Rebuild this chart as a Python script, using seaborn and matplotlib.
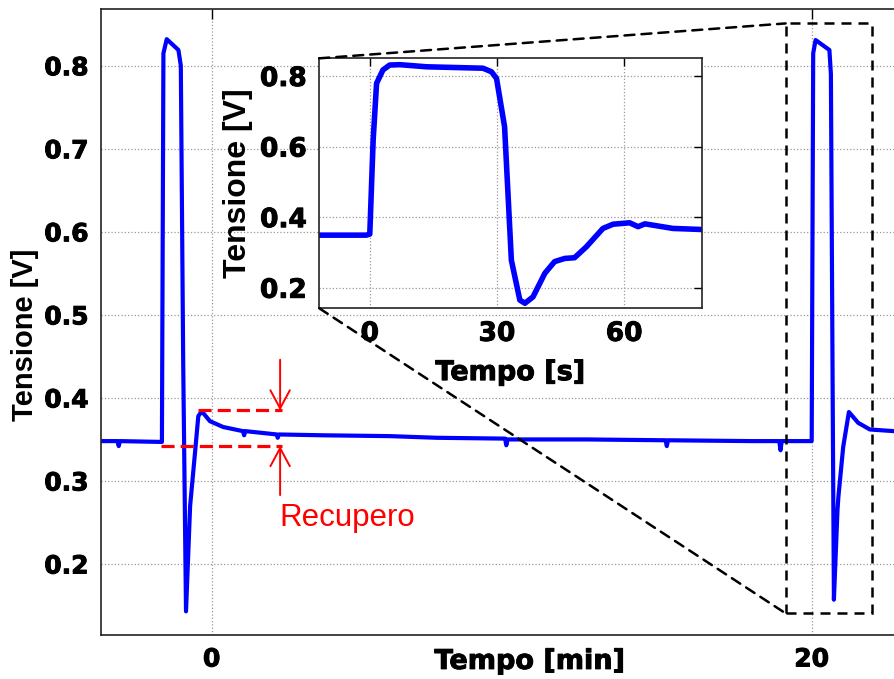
import matplotlib
matplotlib.use("Agg")
import matplotlib.pyplot as plt
import matplotlib.patheffects as pe
import seaborn as sns
import pandas as pd
from matplotlib.patches import Rectangle, ConnectionPatch

# Long recording: two excitation pulses, time in minutes
t_min = [-3.70, -3.14, -3.10, -3.06, -1.66, -1.61, -1.50, -1.11, -1.03, -0.95,
         -0.857, -0.72, -0.557, -0.447, -0.333, -0.06, 0.38, 1.04, 1.08, 1.12,
         2.17, 2.20, 2.24, 3.71, 5.94, 7.50, 9.78, 9.82, 9.86, 12.5,
         15.13, 15.17, 15.21, 18.0, 18.92, 18.96, 19.00, 20.00, 20.05, 20.13,
         20.59, 20.64, 20.70, 20.74, 20.86, 20.89, 21.05, 21.24, 21.55, 21.94,
         22.74, 24.90]
v_main = [0.348, 0.348, 0.342, 0.348, 0.347, 0.815, 0.832, 0.819, 0.800, 0.440,
          0.143, 0.270, 0.334, 0.378, 0.384, 0.372, 0.365, 0.360, 0.355, 0.360,
          0.356, 0.352, 0.356, 0.355, 0.354, 0.352, 0.351, 0.343, 0.350, 0.350,
          0.349, 0.342, 0.349, 0.348, 0.348, 0.337, 0.348, 0.348, 0.815, 0.831,
          0.819, 0.790, 0.400, 0.157, 0.265, 0.281, 0.341, 0.383, 0.370, 0.362,
          0.360, 0.357]

# Detail of the second pulse, time in seconds from the pulse start
t_sec = [-12.0, -0.8, 0.0, 0.8, 1.6, 3.1, 4.7, 7.1, 13.4, 26.7, 28.7, 29.9,
         31.8, 33.4, 35.4, 36.6, 38.5, 41.3, 43.6, 46.0, 48.3, 51.1, 55.0,
         57.4, 61.3, 63.3, 64.9, 71.5, 78.2]
v_zoom = [0.349, 0.349, 0.352, 0.619, 0.779, 0.817, 0.831, 0.832, 0.826, 0.822,
          0.812, 0.793, 0.656, 0.278, 0.165, 0.156, 0.174, 0.241, 0.274, 0.283,
          0.285, 0.316, 0.368, 0.380, 0.384, 0.373, 0.381, 0.368, 0.365]

main_xticks = [0, 20]
main_yticks = [0.2, 0.3, 0.4, 0.5, 0.6, 0.7, 0.8]
main_ytick_labels = ["0.2", "0.3", "0.4", "0.5", "0.6", "0.7", "0.8"]
zoom_xticks = [0, 30, 60]
zoom_yticks = [0.2, 0.4, 0.6, 0.8]
zoom_ytick_labels = ["0.2", "0.4", "0.6", "0.8"]

# Recovery marker levels (V) and the span they cover (min)
rec_low, rec_high = 0.342, 0.385
rec_low_start, rec_high_start, rec_end = -1.69, -0.457, 2.33
rec_arrow_x = 2.28

# Region of the main trace that the detail panel enlarges
box_t0, box_t1 = 19.13, 22.0
box_v0, box_v1 = 0.1406, 0.851

sns.set_style("white")
plt.rcParams["font.family"] = ["Liberation Sans", "DejaVu Sans"]
plt.rcParams["font.weight"] = "bold"
plt.rcParams["axes.labelweight"] = "bold"
plt.rcParams["axes.labelcolor"] = "black"
plt.rcParams["text.color"] = "black"

wide_bold = dict(family="DejaVu Sans", weight="bold")
narrow_bold = dict(family="Liberation Sans", weight="bold")
heavy = [pe.withStroke(linewidth=0.7, foreground="black")]


def heavier(texts):
    for t in texts:
        t.set_path_effects(heavy)


fig = plt.figure(figsize=(8.94, 6.79), dpi=100)

# ---------------- main panel ----------------
ax = fig.add_axes([0.1130, 0.0648, 0.9597, 0.9215])
df_main = pd.DataFrame({"t": t_min, "v": v_main})
sns.lineplot(data=df_main, x="t", y="v", ax=ax, color="#0000ff", lw=3.0,
             sort=False, estimator=None)
ax.set_xlim(-3.69, 24.91)
ax.set_ylim(0.1145, 0.868)
ax.set_xticks(main_xticks)
ax.set_xticklabels([str(x) for x in main_xticks], fontdict=dict(size=18, **wide_bold))
ax.set_yticks(main_yticks)
ax.set_yticklabels(main_ytick_labels, fontdict=dict(size=18, **wide_bold))
ax.tick_params(direction="in", length=7, width=1, top=True, right=True,
               pad=9, colors="black")
ax.grid(True, ls=":", color="0.6", lw=0.9)
for s in ax.spines.values():
    s.set_color("#222222")
    s.set_linewidth(1.2)
ax.set_xlabel("Tempo [min]", fontsize=19.5, **wide_bold)
ax.set_ylabel("Tensione [V]", fontsize=21, **narrow_bold)
ax.xaxis.set_label_coords(0.5, -0.043)
ax.xaxis.label.set_va("center")
ax.yaxis.set_label_coords(-0.0886, 0.48)
ax.yaxis.label.set_va("center")
heavier(ax.get_xticklabels() + ax.get_yticklabels() + [ax.xaxis.label])

# recovery annotation
red_dash = (0, (4.1, 1.9))
ax.plot([rec_high_start, rec_end], [rec_high, rec_high], color="red", lw=2.3,
        ls=red_dash)
ax.plot([rec_low_start, rec_end], [rec_low, rec_low], color="red", lw=2.3,
        ls=red_dash)
arrow = dict(arrowstyle="->,head_length=1.3,head_width=0.7", color="red",
             lw=1.4, shrinkA=0, shrinkB=0, mutation_scale=10)
ax.annotate("", xy=(rec_arrow_x, rec_high), xytext=(rec_arrow_x, 0.446),
            arrowprops=arrow)
ax.annotate("", xy=(rec_arrow_x, rec_low), xytext=(rec_arrow_x, 0.283),
            arrowprops=arrow)
ax.text(2.24, 0.2554, "Recupero", color="red", fontsize=22.5,
        family="Liberation Sans", fontweight="normal", ha="left", va="center")

# zoom box around the second pulse
black_dash = (0, (4.0, 2.8))
ax.add_patch(Rectangle((box_t0, box_v0), box_t1 - box_t0, box_v1 - box_v0,
                       fill=False, ec="black", lw=1.8, ls=black_dash, zorder=5))

# ---------------- detail panel ----------------
axi = fig.add_axes([0.3572, 0.5459, 0.4277, 0.3682])
df_zoom = pd.DataFrame({"t": t_sec, "v": v_zoom})
sns.lineplot(data=df_zoom, x="t", y="v", ax=axi, color="#0000ff", lw=4,
             sort=False, estimator=None)
axi.set_facecolor("white")
axi.set_xlim(-11.9, 78.3)
axi.set_ylim(0.1416, 0.850)
axi.set_xticks(zoom_xticks)
axi.set_xticklabels([str(x) for x in zoom_xticks], fontdict=dict(size=19, **wide_bold))
axi.set_yticks(zoom_yticks)
axi.set_yticklabels(zoom_ytick_labels, fontdict=dict(size=19, **wide_bold))
axi.tick_params(direction="in", length=6, width=1, top=True, right=True,
                pad=9, colors="black")
axi.grid(True, ls=":", color="0.6", lw=0.9)
for s in axi.spines.values():
    s.set_color("#222222")
    s.set_linewidth(1.2)
axi.set_xlabel("Tempo [s]", fontsize=19.5, **wide_bold)
axi.set_ylabel("Tensione [V]", fontsize=23, **narrow_bold)
axi.xaxis.set_label_coords(0.5, -0.259)
axi.xaxis.label.set_va("center")
axi.yaxis.set_label_coords(-0.2126, 0.5)
axi.yaxis.label.set_va("center")
heavier(axi.get_xticklabels() + axi.get_yticklabels() + [axi.xaxis.label])

# connector lines from the detail panel to the zoom box
for ya, yb in [(1.0, box_v1), (0.0, box_v0)]:
    con = ConnectionPatch(xyA=(0.0, ya), coordsA=axi.transAxes,
                          xyB=(box_t0, yb), coordsB=ax.transData,
                          color="black", lw=1.8, ls=black_dash)
    fig.add_artist(con)

fig.savefig("out.png", dpi=100)
